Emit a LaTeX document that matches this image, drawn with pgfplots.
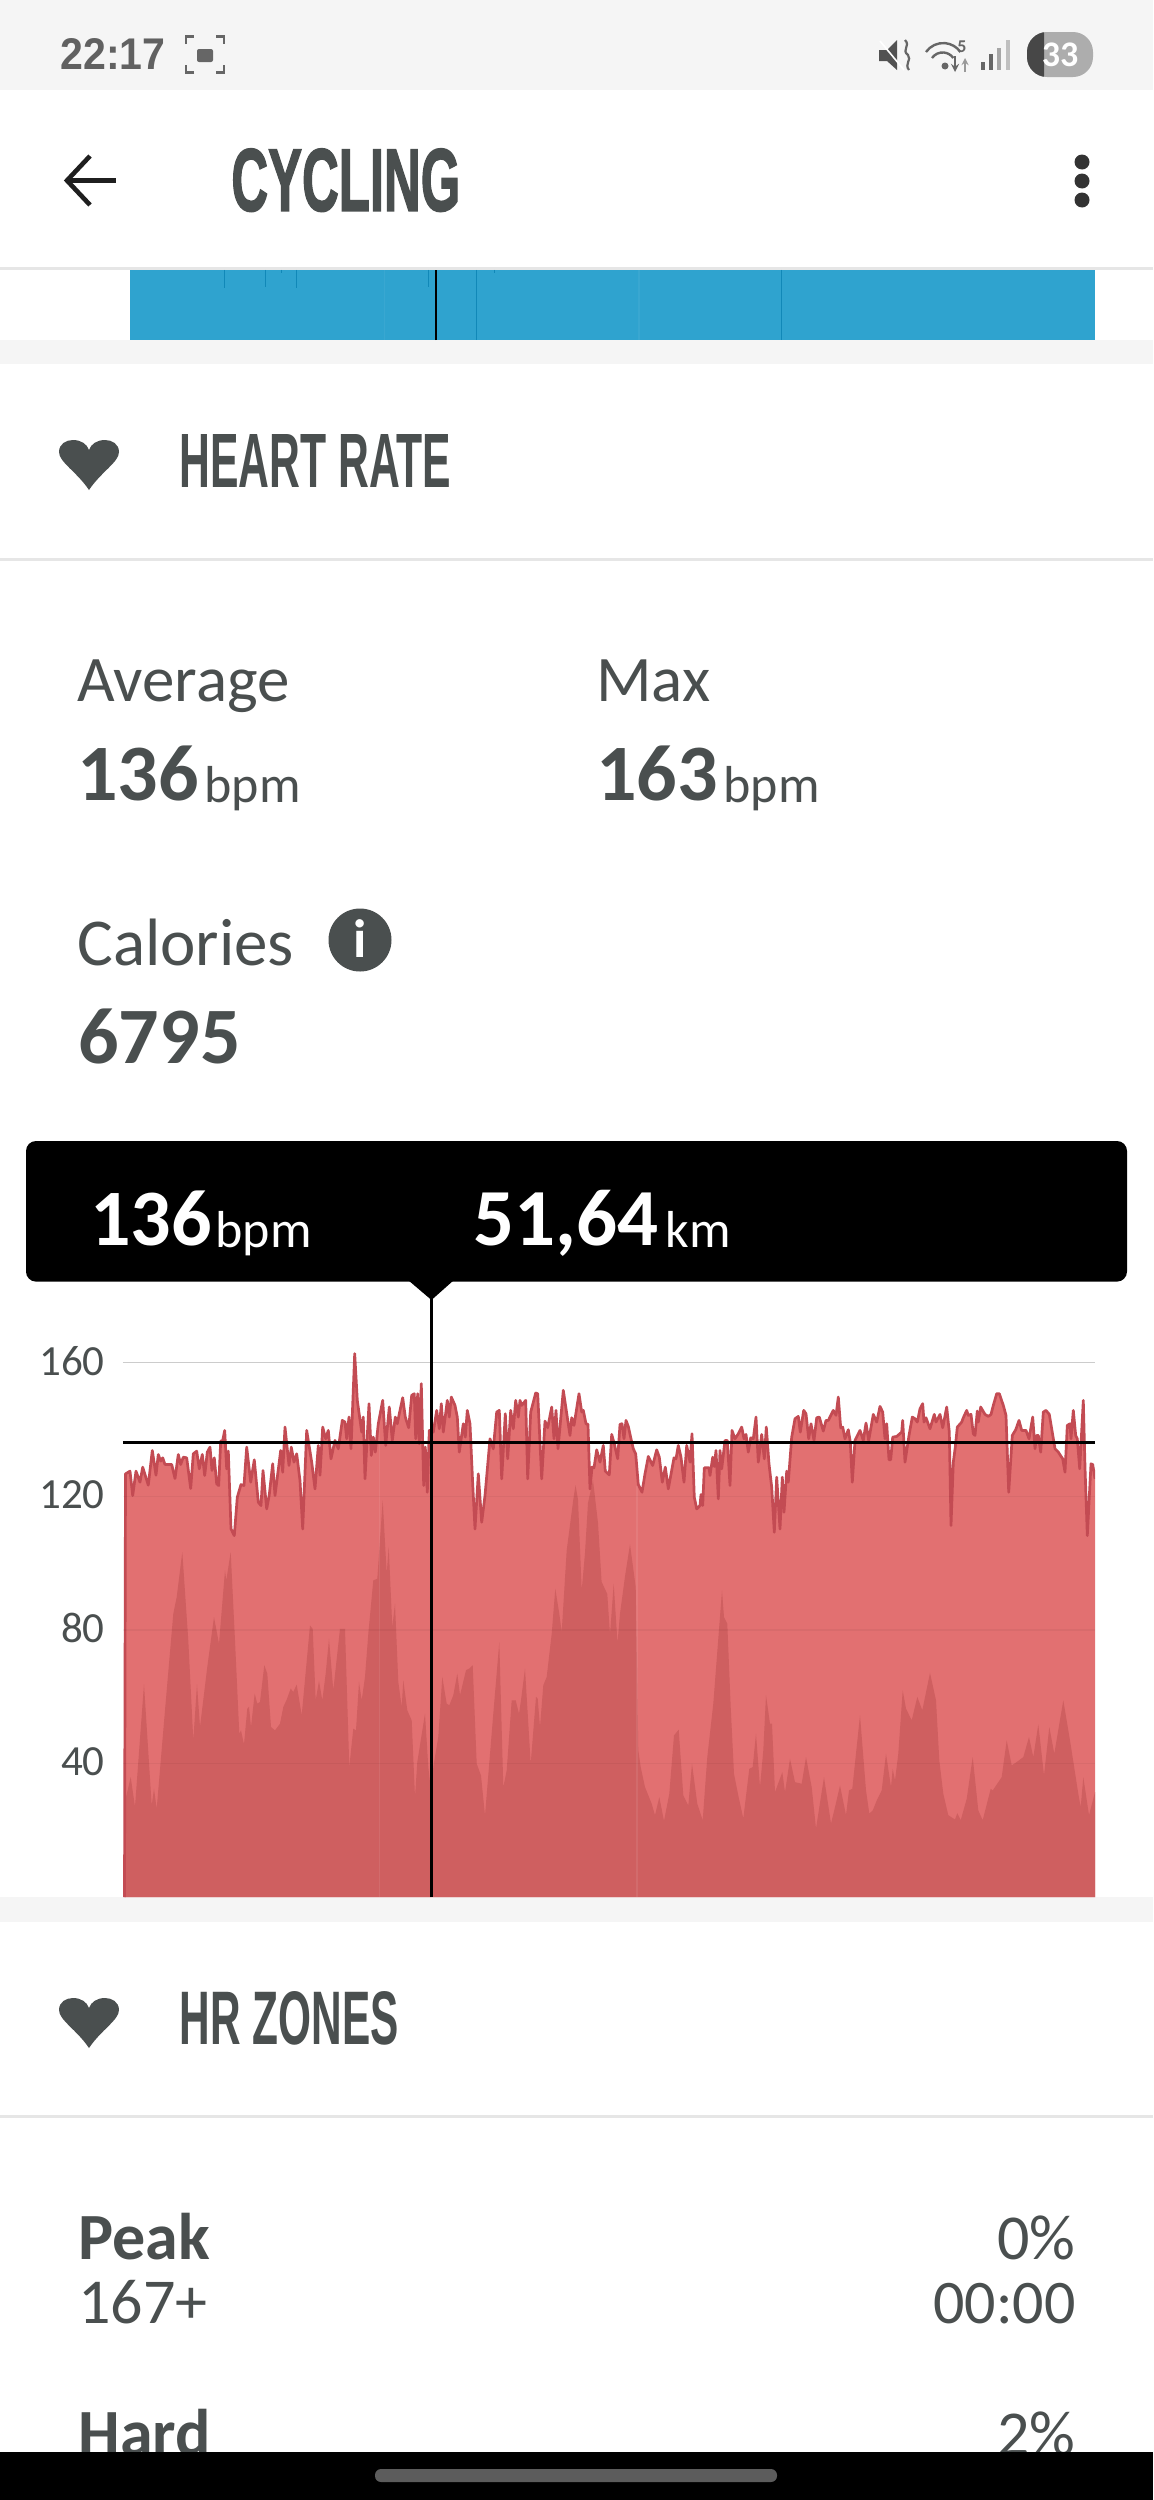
\documentclass[border=0pt]{standalone}
\usepackage{fontspec}
\setmainfont{Carlito}
\newfontfamily\lib{Liberation Sans}
\newfontfamily\libh[BoldFeatures={FakeBold=2}]{Liberation Sans}
\usepackage{graphicx}
\usepackage{pgfplots}
\usepackage{pgfplotstable}
\pgfplotsset{compat=1.18}
\definecolor{txt}{HTML}{4A4F4F}
\definecolor{bgg}{HTML}{F5F5F5}
\definecolor{divg}{HTML}{E6E6E6}
\definecolor{hrlight}{HTML}{E27071}
\definecolor{hrdark}{HTML}{CF5F60}
\definecolor{hrline}{HTML}{C34B53}
\definecolor{bluefill}{HTML}{2FA3CF}
\definecolor{bluedark}{HTML}{1188B8}
\newcommand\T[6]{\node[anchor=base #3,inner sep=0pt,text=#4,font=\fontsize{#5}{#5}\selectfont] at (#1,#2) {#6};}
\newcommand\R[6]{\node[anchor=south west,inner sep=0pt,text=#5] at (#1,#2) {\resizebox{#3pt}{#4pt}{\lib\bfseries #6}};}
\newcommand\Rh[6]{\node[anchor=south west,inner sep=0pt,text=#5] at (#1,#2) {\resizebox{#3pt}{#4pt}{\libh\bfseries #6}};}
\newcommand\Heart[2]{\fill[txt,shift={(#1,#2)}] (0,50) .. controls (-12,32) and (-30,22) .. (-30,12) .. controls (-30,4) and (-23,0) .. (-16,0) .. controls (-8,0) and (-2,4) .. (0,10) .. controls (2,4) and (8,0) .. (16,0) .. controls (23,0) and (30,4) .. (30,12) .. controls (30,22) and (12,32) .. (0,50) -- cycle;}
% x in screen pixels across the plot (51,64 km at 431), y in bpm
\pgfplotstableread{
px bpm
124.5 0
125.5 126.7
130 127.5
132.7 120.2
136 127.5
140 124.2
142.7 128.7
148.3 123.3
152.3 133.7
156 126.3
158.3 132.5
160.7 130.5
162.7 131.5
165 129.5
171.7 129.5
175 125.3
178.3 132.5
180.7 129.5
183.3 131.7
186.7 131.5
190.7 122.3
193.3 132.7
196.7 133.5
199.3 128.2
202.3 132.5
204.7 126.2
207.3 133.2
210 134.7
212 127.7
214.3 131.5
216.7 123.7
218.7 123.2
220.7 136.5
222.7 136.7
224.7 139.7
226.7 128.2
228.3 133.5
231 110.2
234.3 108.2
237.3 119.7
241 123.5
244 123.2
246.7 134.7
250.7 124.2
254.3 130.9
258.3 118.2
261 117.2
263 127.7
266.7 116.2
269.3 120.5
272.7 129.7
275 120.2
280.7 133.7
282.7 127.2
285 140.7
289 129.2
291.3 134.7
294 130.2
296.7 132.7
300 124.7
302.7 110.2
306.7 139.7
311.7 130.2
315 122.2
318.3 135.2
320 126.3
322.7 140.7
325.7 137.2
328.3 139.7
331 131.2
335 136.7
338.3 134.2
342.3 142.7
345 142.2
346.7 137.2
349 143.7
351 134.2
354.7 162.7
357.3 148.7
361.7 139.2
363.3 143.7
365 125.2
369 147.7
371.3 132.2
373.3 137.7
375.3 133.2
378.3 141.7
382.7 148.7
385.7 135.2
389.3 146.7
392.3 136.7
395.3 143.7
397.3 141.7
399.3 144.7
402.7 149.5
405.3 143.7
408.7 140.5
411.7 150.2
414.3 150.7
415.7 137.2
417.7 150.7
419.3 135.7
421.3 153.7
423.7 123.2
425.3 134.7
427.3 121.2
429.3 139.7
433.3 139.2
436.7 145.7
439.3 140.2
441.3 147.7
443.3 139.2
447.3 148.7
449.3 143.7
451.3 149.7
455 147.2
457.3 143.7
459.3 133.2
463.3 141.7
465.3 137.7
467.3 145.7
470 141.7
472.7 123.7
475 110.2
478.3 126.7
481.7 112.2
485 120.2
490 137.2
493.3 134.2
496.7 145.2
499.3 145.7
501.7 125.2
505.3 144.7
507.7 131.2
510.7 145.7
513.3 140.2
515.7 148.7
518.3 143.7
520 148.7
521.7 147.2
525.7 148.7
527.7 125.2
530.7 145.2
535.7 150.9
537.7 150.7
541.7 125.2
545 142.5
547.7 140.5
551.7 146.7
554 137.2
556 145.7
558 134.2
563.3 151.7
570 138.2
571.7 143.5
574 141.2
579 150.7
581.7 145.2
583.3 145.7
586 141.7
588 141.5
590 122.2
592 128.7
594 128.5
596.7 133.9
600 130.2
603.3 135.2
605.3 127.5
609.3 126.4
611.7 138.5
614.3 135.7
617.7 131.2
620 141.5
622 141.7
624 137.2
626 142.7
628.3 140.9
631 137.2
633.3 134.2
635.7 132.7
638.3 123.5
642 121.2
645 126.7
648.3 131.9
652.7 129.2
656.7 133.9
659.3 131.7
662.3 124.2
665.3 128.7
668.3 122.2
674 131.5
676 131.2
678.3 135.2
681 131.7
684 124.2
686.7 135.2
690 130.2
692 138.7
694.3 119.7
696.7 116.2
700 117.2
701 120.5
702.7 117.2
704.3 128.5
709 128.5
710 126.2
712.7 131.7
714.3 128.9
716 133.7
718.3 119.2
720 133.7
721.7 128.2
725 136.7
727.3 136.7
730 123.2
732 139.7
735 137.2
738.3 138.7
741.7 140.7
744 137.2
746 138.5
748.3 133.2
750.7 137.5
753.3 137.2
756 143.7
758.3 130.2
761.7 138.5
764.3 131.2
766.3 140.7
769 129.7
771.7 122.7
774.3 109.2
776.7 125.7
780 110.2
782.3 125.7
784 115.2
786.7 127.5
788.3 124.2
791.7 137.7
795 143.2
798.3 143.9
800.3 139.2
803.7 145.7
806 144.7
808.7 137.2
811 141.7
814 136.7
816.7 143.5
819.3 143.7
823.3 139.5
826 142.7
828.3 142.7
833.3 145.7
836 144.2
838.3 149.7
840.7 140.5
842.7 140.7
845 137.2
848.3 139.9
850.3 136.2
852.3 124.2
855 136.7
860 139.7
863.3 136.7
866 141.9
868.7 136.7
873.3 144.5
876.7 142.2
880 146.9
882.7 145.2
885 137.2
886.7 141.7
889 130.9
890.7 130.9
892.7 137.7
896.7 137.9
901.7 139.2
902.7 142.7
905 130.2
909 138.2
912.3 143.7
915 143.2
917.3 142.2
920 146.2
922.7 147.7
924 142.2
926 143.5
930 140.2
934.3 144.5
936 142.2
940 144.5
942.7 140.5
946.7 146.7
949.3 139.2
951 111.2
953.3 130.2
955.3 134.7
957.3 140.7
961.7 142.2
963.3 143.5
966.7 145.7
968.3 144.2
971 144.5
973.3 138.7
975 138.2
977.3 145.5
978.3 142.2
980.7 146.7
985 144.5
988.3 143.9
991 144.5
993.3 147.2
996.7 150.7
999.3 150.7
1003.3 147.2
1006 144.2
1008.7 121.2
1012.3 138.2
1015.7 139.9
1019 142.7
1021.7 139.7
1026 139.7
1029 137.2
1032.7 143.7
1035 134.2
1036.7 138.2
1038.3 138.2
1040.7 133.2
1043.3 145.2
1046 145.7
1049.3 144.5
1051.7 140.2
1055 134.2
1058.3 133.2
1062.7 131.2
1065 127.2
1067.3 141.2
1070 141.7
1071 137.2
1073.3 145.7
1075.7 138.2
1077.3 137.2
1079.7 128.2
1083.3 148.7
1085 128.7
1087.3 108.2
1091 129.7
1092.7 129.5
1095 125.2
}\hrdata
\pgfplotstableread{
px val
124.5 27.9
130.7 35.9
135 27
144 63.7
151.7 27.4
154 32.4
156.7 26.4
165 55.9
173.3 84.8
176.7 89.8
182.3 103.3
188.3 76.8
193.3 46.9
197 63.7
200 50.9
207.3 68.9
214 83.8
219 75.8
225 97.8
226.3 94.8
230.7 103.3
235 76.8
239.3 48.9
241 49.9
244 45.7
247.3 56.4
249 56.9
251 50.9
254.7 60.9
257.3 57.9
260 58.4
264.3 69.4
267.3 66.9
271 50.9
275 49.9
280 51.9
283.3 56.9
286.7 59.1
290.7 62.4
293.3 61.4
296.7 63.6
301.7 54.4
310 81.3
312.7 80.3
315.7 58.9
319 64.7
322.3 58.9
325.7 66.9
329 77.3
333.3 61.9
340 80.3
345 80.3
349.3 38.9
353.3 50.4
356 49.9
359 64.4
361.7 58.9
365 65.9
368.3 78.8
373.3 94.8
377.3 95.3
382.7 118.8
386.7 96.8
388.7 104.8
392.3 80.8
395 87.8
398.3 64.4
401.7 56.9
403.3 64.9
407.3 55.9
411.7 52.9
415 29.9
417.3 40.4
425 54.9
428.3 38.9
431.7 29.9
433.3 38.9
438.3 47.9
442.3 65.9
446.7 57.9
449.3 57.4
453.3 60.4
457.3 66.9
460 60.4
466 67.9
469.3 68.4
472.7 69.4
476.7 39.9
481 36.4
485 24.4
493.3 54.9
499.3 76.3
503.3 32.9
506.7 37.9
511.7 58.9
515.7 58.9
519 54.9
521 58.9
525 68.4
530.7 39.9
536 59.9
537.7 59.4
540 50.9
543.3 63.4
546.7 65.9
551.7 78.8
555.3 92.3
559.3 84.8
561.7 79.3
566.7 103.8
573.3 119
575.5 123.3
578 119
581.7 91.8
585 103
588 118
593 124.8
598 112
601.6 94.4
607.3 90.7
610 78.5
613.7 93.8
617.5 76
620 84.8
625 96
630 105.6
635.7 92.8
637.3 62.9
638.3 43.9
640.7 38.9
645 32.9
651.7 27.9
655 24.5
659.3 29.9
664 22.8
669.3 30.9
674 48.4
678.7 50.1
683.3 30.4
688.3 27.4
692 39.9
697.3 27.9
702.7 23
707.3 41.9
713.3 57.9
722 91.8
724 83.8
727.3 81.8
730.7 56.9
734 36.9
738.3 30.4
743.3 23.5
749.3 38.4
752.7 38.9
756 48.9
760 32.9
763.3 43.9
766 60.4
770 51.9
772 51.9
775 31.4
782.3 37.4
785 31.4
790 41.4
795 34.4
801.7 33.9
806 41.9
811.7 32.9
816 20.5
824 35.9
831 22
835 26.9
840 33.4
846 24.5
849 31.9
852.3 32.4
860 54.4
866 31.9
869.3 25
872.7 25.9
876.7 28.9
881.7 31.9
886 42.9
891 32.9
892.7 38.4
895 34.9
898.3 42.9
902.7 61.9
906 56.4
911.7 52.9
917.3 59.9
922.3 55.9
930 67.1
936 58.9
939.3 40.9
943.3 30.9
948.3 24.5
955 23.2
957.3 25.1
960.7 23
966.7 29.4
972.7 41.9
978.3 25.9
982.7 23
990.7 32.4
992.7 31.9
1001.7 35.9
1006.7 46.9
1011.7 39.4
1016.7 40.4
1023.3 41.9
1029 47.9
1033.3 41.9
1038.3 51.7
1044 36.4
1049.3 50.9
1054.3 42.9
1063.3 58.9
1070 46.9
1078.3 30.9
1080.7 26.9
1083.3 35.9
1089 24.5
1095 31.4
}\elev
\begin{document}
\begin{tikzpicture}
\begin{scope}[x=0.5pt,y=-0.5pt]
\path[use as bounding box,fill=white] (0,0) rectangle (1153,2500);
% bands
\fill[bgg] (0,0) rectangle (1153,90);
\fill[bgg] (0,340) rectangle (1153,364);
\fill[bgg] (0,1897) rectangle (1153,1922);
\fill[divg] (0,266.5) rectangle (1153,270);
\fill[divg] (0,557.5) rectangle (1153,560.5);
\fill[divg] (0,2115) rectangle (1153,2118);
% status bar
\R{60}{70}{52.5}{15.5}{black!62}{22:17}
\draw[black!60,line width=1.2pt] (186,44)--(186,36.5)--(194,36.5) (216,36.5)--(224,36.5)--(224,44) (224,65)--(224,72.5)--(216,72.5) (194,72.5)--(186,72.5)--(186,65);
\fill[black!60,rounded corners=1pt] (197,49) rectangle (213,62);
\fill[black!68] (879,50)--(887,50)--(897,40)--(897,70)--(887,61)--(879,61)--cycle;
\draw[white,line width=0.8pt] (880,41)--(904,70);
\draw[black!60,line width=1.1pt] (905,40) .. controls (911,46) and (901,50) .. (908,55) .. controls (912,60) and (904,64) .. (909,70);
\draw[black!60,line width=1.2pt] (926,52) arc[start angle=215,end angle=325,radius=21];
\draw[black!60,line width=1.2pt] (932,58) arc[start angle=215,end angle=325,radius=13];
\fill[black!60] (945,66) circle[radius=3.5];
\node[anchor=base,inner sep=0pt,text=black!60,font=\fontsize{9}{9}\selectfont\bfseries] at (962,52) {5};
\draw[black!60,line width=0.8pt,->,>=stealth] (955,56)--(955,72);
\draw[black!40,line width=0.6pt,->,>=stealth] (965,72)--(965,58);
\fill[black!60] (981,62) rectangle (985,70);
\fill[black!60] (989,54) rectangle (993,70);
\fill[black!35] (997,48) rectangle (1001,70);
\fill[black!25] (1006,40) rectangle (1010,70);
\fill[black!32,rounded corners=10pt] (1027,32) rectangle (1093,77);
\begin{scope}
\clip (1027,32) rectangle (1044,77);
\fill[black!72,rounded corners=10pt] (1027,32) rectangle (1093,77);
\end{scope}
\node[anchor=center,inner sep=0pt,text=white,font=\fontsize{18}{18}\selectfont\bfseries] at (1060,55) {33};
% app bar
\draw[black!88,line width=2.3pt,line join=miter] (90,156)--(67,180.5)--(90,205);
\draw[black!88,line width=2.7pt] (69,180.5)--(116,180.5);
\Rh{231}{212}{114.5}{31}{txt}{CYCLING}
\foreach \yy in {162,181,200} \fill[black!80] (1082,\yy) circle[radius=7.5];
% heart rate header
\Heart{89}{440}
\R{179}{488}{136}{26.5}{txt}{HEART RATE}
% stats
\T{77}{701}{west}{txt}{32.5}{Average}
\T{596}{701}{west}{txt}{32.5}{Max}
\T{77}{800}{west}{txt}{40}{\bfseries 136}
\T{204}{802}{west}{txt}{26}{bpm}
\T{596}{800}{west}{txt}{40}{\bfseries 163}
\T{723}{802}{west}{txt}{26}{bpm}
\T{77}{965}{west}{txt}{33.5}{Calories}
\fill[txt] (360,940) circle[radius=31.5];
\node[anchor=center,inner sep=0pt,text=white,font=\fontsize{27}{27}\selectfont\bfseries] at (360,939) {i};
\T{78}{1063.5}{west}{txt}{40}{\bfseries 6795}
% hr zones header
\Heart{89}{1998}
\R{179.5}{2046}{109.5}{26.5}{txt}{HR ZONES}
\T{78}{2259.6}{west}{txt}{33}{\bfseries Peak}
\T{78}{2323.7}{west}{txt}{32}{167+}
\T{1076}{2259.6}{east}{txt}{32}{0\%}
\T{1076}{2323.7}{east}{txt}{31}{00:00}
\T{78}{2455}{west}{txt}{33}{\bfseries Hard}
\T{1076}{2455}{east}{txt}{32}{2\%}
\fill[black] (0,2452) rectangle (1153,2500);
\fill[black!64,rounded corners=3pt] (375,2469) rectangle (777,2482);
\end{scope}
% cut-off chart above the heart rate section
\begin{axis}[at={(65pt,-170pt)},anchor=south west,scale only axis,width=482.5pt,height=35pt,
  xmin=130,xmax=1095,ymin=0,ymax=70,hide axis,unbounded coords=jump]
\addplot[fill=bluefill,draw=none] coordinates {(130,70) (1095,70)} \closedcycle;
\addplot[white,opacity=.05,line width=.6pt] coordinates {(384.6,0) (384.6,70) (nan,nan) (639,0) (639,70)};
\addplot[bluedark,line width=.5pt] coordinates {(224,70) (224,52) (nan,nan) (265,70) (265,53) (nan,nan) (281.6,70) (281.6,67) (nan,nan) (296,70) (296,52) (nan,nan) (428,70) (428,53) (nan,nan) (476,70) (476,0) (nan,nan) (494,70) (494,67) (nan,nan) (781.6,70) (781.6,0)};
\addplot[black,line width=1pt] coordinates {(436,0) (436,70)};
\end{axis}
% heart rate chart
\begin{axis}[at={(61.5pt,-948.5pt)},anchor=south west,scale only axis,width=486pt,height=303.94pt,
  xmin=123,xmax=1095,ymin=0,ymax=182,
  xtick=\empty,ytick={40,80,120,160},
  ymajorgrids,grid style={black,opacity=.045,line width=.7pt},
  axis on top,axis line style={draw=none},major tick length=0pt,
  /pgf/number format/assume math mode=true,
  yticklabel style={font=\fontsize{21.5}{24}\selectfont,text=txt,inner sep=0pt,xshift=-9pt,yshift=.8pt}]
\addplot[black!16,line width=.6pt,forget plot] coordinates {(123,160) (1095,160)};
\addplot[fill=hrlight,draw=none] table[x=px,y=bpm] {\hrdata} \closedcycle;
\addplot[fill=hrdark,draw=none] table[x=px,y=val] {\elev} \closedcycle;
\addplot[white,opacity=.08,line width=.6pt,forget plot] coordinates {(379.3,0) (379.3,142)};
\addplot[white,opacity=.08,line width=.6pt,forget plot] coordinates {(637,0) (637,123)};
\addplot[hrline,line width=1.35pt,line join=round] table[x=px,y=bpm] {\hrdata};
\addplot[black,line width=1.5pt] coordinates {(123,136) (1095,136)};
\addplot[black,line width=1.5pt] coordinates {(431.3,0) (431.3,180)};
\end{axis}
% tooltip
\begin{scope}[x=0.5pt,y=-0.5pt]
\fill[black,rounded corners=5pt] (26,1141) rectangle (1127,1281.6);
\fill[black] (408,1280)--(454,1280)--(431.5,1300)--cycle;
\T{90}{1245}{west}{white}{40}{\bfseries 136}
\T{215}{1247}{west}{white}{26}{bpm}
\T{473}{1245}{west}{white}{40.5}{\bfseries 51,64}
\T{665}{1247}{west}{white}{26}{km}
\end{scope}
\end{tikzpicture}
\end{document}
